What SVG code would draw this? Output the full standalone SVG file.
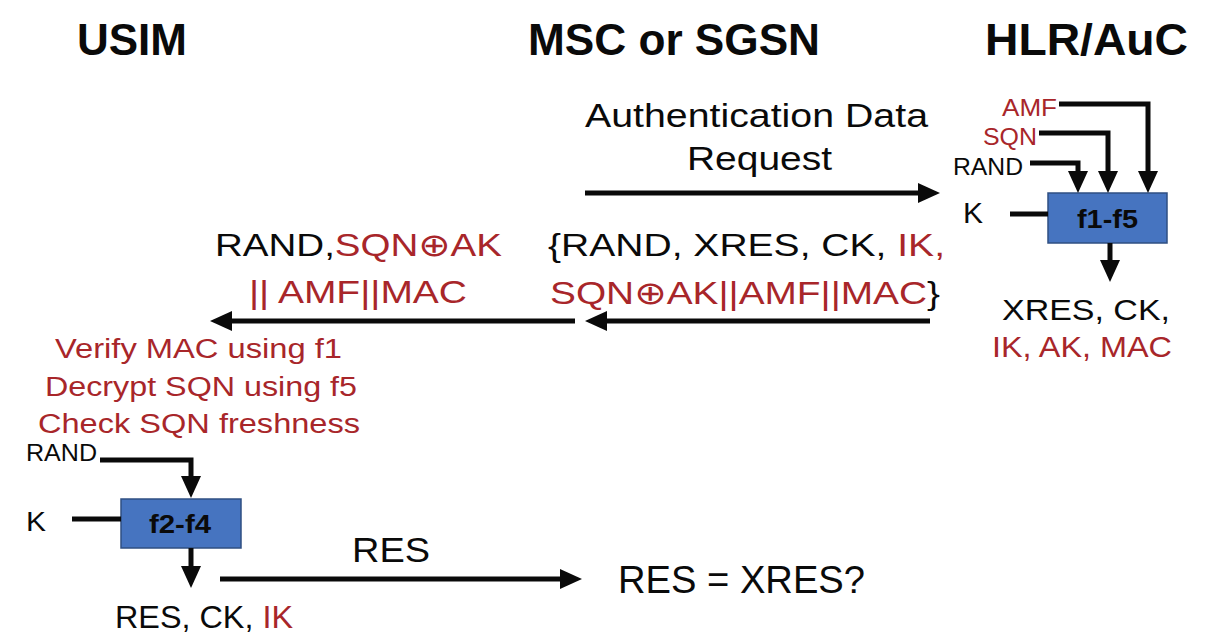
<svg xmlns="http://www.w3.org/2000/svg" width="1216" height="644" viewBox="0 0 1216 644">
<style>
text{font-family:"Liberation Sans","DejaVu Sans",Arial,sans-serif;fill:#0a0a0a}
.t{font-weight:bold;font-size:44px}
.r{fill:#a8262a}
.b{fill:#0a0a0a}
.box{fill:#4674c0;stroke:#2f4f82;stroke-width:1.5}
.bl{font-weight:bold;font-size:26px}
.ln{fill:none;stroke:#0a0a0a;stroke-width:5;stroke-linejoin:miter}
</style>
<defs>
<marker id="ah" markerUnits="userSpaceOnUse" markerWidth="24" markerHeight="22" refX="2" refY="10" orient="auto" viewBox="0 0 24 22">
<path d="M0,0 L22,10 L0,20 z" fill="#0a0a0a"/>
</marker>
</defs>
<rect width="1216" height="644" fill="#ffffff"/>

<g id="title-usim"><text class="t" x="77" y="55" textLength="110" lengthAdjust="spacingAndGlyphs">USIM</text></g>
<g id="title-msc"><text class="t" x="528" y="55" textLength="292" lengthAdjust="spacingAndGlyphs">MSC or SGSN</text></g>
<g id="title-hlr"><text class="t" x="985" y="55" textLength="203" lengthAdjust="spacingAndGlyphs">HLR/AuC</text></g>

<g id="auth-request-label">
<text x="585" y="127" font-size="33" textLength="343" lengthAdjust="spacingAndGlyphs">Authentication Data</text>
<text x="687" y="170" font-size="33" textLength="145" lengthAdjust="spacingAndGlyphs">Request</text>
</g>

<g id="hlr-inputs">
<text class="r" x="1002" y="116" font-size="24" textLength="55" lengthAdjust="spacingAndGlyphs">AMF</text>
<text class="r" x="983" y="145" font-size="24" textLength="54" lengthAdjust="spacingAndGlyphs">SQN</text>
<text x="953" y="175" font-size="23" textLength="70" lengthAdjust="spacingAndGlyphs">RAND</text>
<text x="963" y="223" font-size="29" textLength="20" lengthAdjust="spacingAndGlyphs">K</text>
</g>

<g id="f1-f5">
<rect class="box" x="1048" y="193" width="119" height="50"/>
<text class="bl" x="1077" y="228" textLength="61" lengthAdjust="spacingAndGlyphs">f1-f5</text>
</g>

<g id="hlr-outputs">
<text x="1002" y="320" font-size="30" textLength="168" lengthAdjust="spacingAndGlyphs">XRES, CK,</text>
<text class="r" x="992" y="357" font-size="30" textLength="180" lengthAdjust="spacingAndGlyphs">IK, AK, MAC</text>
</g>

<g id="av-label">
<text x="548" y="256" font-size="32" textLength="397" lengthAdjust="spacingAndGlyphs">{RAND, XRES, CK, <tspan class="r">IK,</tspan></text>
<text x="550" y="304" font-size="32" textLength="390" lengthAdjust="spacingAndGlyphs"><tspan class="r">SQN⊕AK||AMF||MAC</tspan><tspan class="b">}</tspan></text>
</g>

<g id="auth-label">
<text x="215" y="256" font-size="32" textLength="287" lengthAdjust="spacingAndGlyphs">RAND,<tspan class="r">SQN⊕AK</tspan></text>
<text class="r" x="249" y="303" font-size="32" textLength="218" lengthAdjust="spacingAndGlyphs">|| AMF||MAC</text>
</g>

<g id="usim-checks">
<text class="r" x="55" y="358" font-size="27" textLength="287" lengthAdjust="spacingAndGlyphs">Verify MAC using f1</text>
<text class="r" x="45" y="396" font-size="27" textLength="312" lengthAdjust="spacingAndGlyphs">Decrypt SQN using f5</text>
<text class="r" x="38" y="433" font-size="27" textLength="322" lengthAdjust="spacingAndGlyphs">Check SQN freshness</text>
</g>

<g id="usim-inputs">
<text x="26" y="461" font-size="23" textLength="71" lengthAdjust="spacingAndGlyphs">RAND</text>
<text x="26" y="531" font-size="28" textLength="20" lengthAdjust="spacingAndGlyphs">K</text>
</g>

<g id="f2-f4">
<rect class="box" x="121" y="499" width="120" height="49"/>
<text class="bl" x="149" y="533" textLength="62" lengthAdjust="spacingAndGlyphs">f2-f4</text>
</g>

<g id="usim-outputs">
<text x="115" y="628" font-size="32" textLength="178" lengthAdjust="spacingAndGlyphs">RES, CK, <tspan class="r">IK</tspan></text>
</g>

<g id="res-label"><text x="352" y="562" font-size="35" textLength="78" lengthAdjust="spacingAndGlyphs">RES</text></g>
<g id="compare"><text x="618" y="593" font-size="38" textLength="247" lengthAdjust="spacingAndGlyphs">RES = XRES?</text></g>

<g id="connectors">
<path class="ln" d="M585 193 H920" marker-end="url(#ah)"/>
<path class="ln" d="M1059 104 H1148 V173" marker-end="url(#ah)"/>
<path class="ln" d="M1039 133 H1108 V173" marker-end="url(#ah)"/>
<path class="ln" d="M1030 163 H1078 V173" marker-end="url(#ah)"/>
<path class="ln" d="M1010 214 H1048"/>
<path class="ln" d="M1110 243 V262" marker-end="url(#ah)"/>
<path class="ln" d="M930 321 H605" marker-end="url(#ah)"/>
<path class="ln" d="M575 321 H230" marker-end="url(#ah)"/>
<path class="ln" d="M100 460 H191 V478" marker-end="url(#ah)"/>
<path class="ln" d="M72 519 H121"/>
<path class="ln" d="M191 548 V568" marker-end="url(#ah)"/>
<path class="ln" d="M220 579 H562" marker-end="url(#ah)"/>
</g>
</svg>
